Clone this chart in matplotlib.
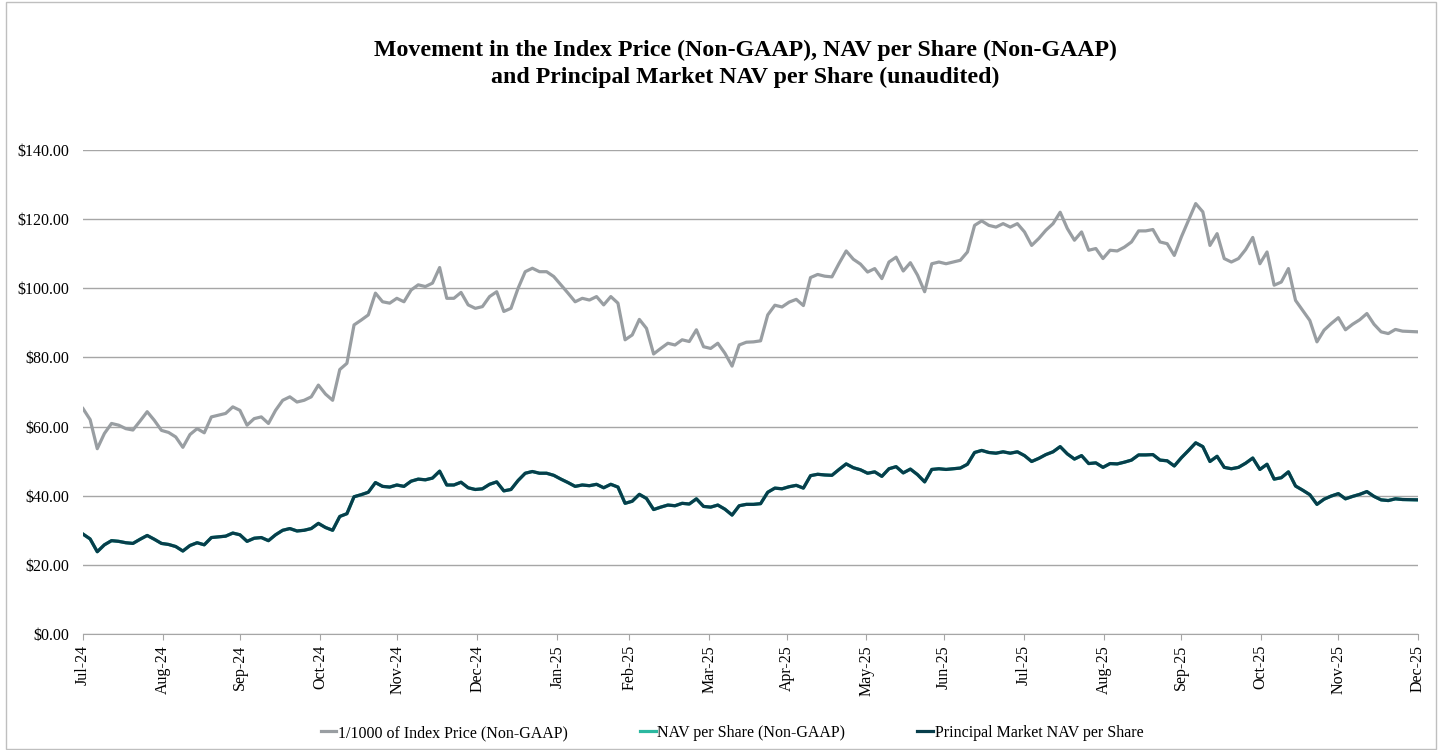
import numpy as np
import pandas as pd
import matplotlib
matplotlib.use("Agg")
import matplotlib.pyplot as plt
import matplotlib.dates as mdates
from matplotlib.patches import Rectangle

plt.rcParams['font.family'] = ['Liberation Serif', 'DejaVu Serif']

# readings taken at evenly spaced dates through 2025-12-25, plus the last day
first_day = "2024-07-31"
last_read = "2025-12-25"
last_day = "2025-12-31"

# 1/1000 of index price (Non-GAAP)
index_price = [
    65.2, 62.0, 53.6, 58.0, 60.9, 60.4, 59.4, 59.0, 61.6, 64.3,
    61.8, 58.9, 58.3, 57.0, 54.0, 57.7, 59.4, 58.2, 62.8, 63.3,
    63.8, 65.7, 64.7, 60.4, 62.3, 62.8, 60.9, 64.7, 67.6, 68.6,
    67.1, 67.6, 68.6, 72.0, 69.4, 67.6, 76.5, 78.3, 89.4, 90.8,
    92.3, 98.6, 96.1, 95.7, 97.1, 96.1, 99.5, 101.0, 100.5, 101.5,
    106.0, 97.1, 97.1, 98.8, 95.2, 94.2, 94.7, 97.6, 99.0, 93.3,
    94.2, 100.0, 104.8, 105.8, 104.8, 104.8, 103.4, 101.0, 98.6, 96.1,
    97.1, 96.6, 97.6, 95.2, 97.6, 95.7, 85.1, 86.5, 91.0, 88.4,
    81.0, 82.6, 84.1, 83.6, 85.1, 84.6, 88.0, 83.1, 82.6, 84.1,
    81.2, 77.5, 83.6, 84.4, 84.5, 84.8, 92.3, 95.1, 94.6, 96.0,
    96.8, 95.0, 103.1, 104.0, 103.5, 103.3, 107.2, 110.8, 108.4, 107.0,
    104.7, 105.7, 102.8, 107.6, 109.0, 105.0, 107.4, 103.8, 99.0, 107.1,
    107.6, 107.1, 107.6, 108.1, 110.5, 118.2, 119.5, 118.2, 117.7, 118.7,
    117.7, 118.7, 116.3, 112.4, 114.4, 116.8, 118.7, 122.0, 117.3, 113.9,
    116.3, 111.0, 111.5, 108.6, 111.0, 110.8, 111.9, 113.4, 116.6, 116.6,
    117.0, 113.4, 112.9, 109.5, 114.9, 119.7, 124.5, 122.1, 112.4, 115.8,
    108.6, 107.6, 108.6, 111.2, 114.7, 107.1, 110.5, 100.9, 101.8, 105.7,
    96.5, 93.6, 90.7, 84.5, 87.9, 89.8, 91.5, 88.0, 89.6, 90.9,
    92.7, 89.6, 87.4, 86.9, 88.1, 87.6, 87.4,
]

# NAV per share (Non-GAAP)
nav_per_share = [
    28.9, 27.5, 23.8, 25.8, 27.0, 26.8, 26.4, 26.2, 27.4, 28.5,
    27.4, 26.2, 25.9, 25.3, 24.0, 25.6, 26.4, 25.8, 27.9, 28.1,
    28.3, 29.2, 28.7, 26.8, 27.7, 27.9, 27.0, 28.7, 30.0, 30.5,
    29.8, 30.0, 30.5, 32.0, 30.8, 30.0, 34.0, 34.8, 39.7, 40.3,
    41.0, 43.8, 42.7, 42.5, 43.1, 42.7, 44.2, 44.8, 44.6, 45.1,
    47.1, 43.1, 43.1, 43.9, 42.3, 41.8, 42.0, 43.3, 44.0, 41.4,
    41.8, 44.4, 46.5, 47.0, 46.5, 46.5, 45.9, 44.8, 43.8, 42.7,
    43.1, 42.9, 43.3, 42.3, 43.3, 42.5, 37.8, 38.4, 40.4, 39.2,
    36.0, 36.7, 37.3, 37.1, 37.8, 37.6, 39.1, 36.9, 36.7, 37.3,
    36.1, 34.4, 37.1, 37.5, 37.5, 37.7, 41.0, 42.2, 42.0, 42.6,
    43.0, 42.2, 45.8, 46.2, 46.0, 45.9, 47.6, 49.2, 48.1, 47.5,
    46.5, 46.9, 45.6, 47.8, 48.4, 46.6, 47.7, 46.1, 44.0, 47.6,
    47.8, 47.6, 47.8, 48.0, 49.1, 52.5, 53.1, 52.5, 52.3, 52.7,
    52.3, 52.7, 51.6, 49.9, 50.8, 51.9, 52.7, 54.2, 52.1, 50.6,
    51.6, 49.3, 49.5, 48.2, 49.3, 49.2, 49.7, 50.3, 51.8, 51.8,
    51.9, 50.3, 50.1, 48.6, 51.0, 53.1, 55.3, 54.2, 49.9, 51.4,
    48.2, 47.8, 48.2, 49.4, 50.9, 47.6, 49.1, 44.8, 45.2, 46.9,
    42.8, 41.6, 40.3, 37.5, 39.0, 39.9, 40.6, 39.1, 39.8, 40.4,
    41.2, 39.8, 38.8, 38.6, 39.1, 38.9, 38.8,
]

# Principal Market NAV per share - lies on top of the NAV line in the chart
principal_nav = list(nav_per_share)

labels = ["1/1000 of Index Price (Non-GAAP)", "NAV per Share (Non-GAAP)",
          "Principal Market NAV per Share"]
colors = ["#999ea2", "#2bb8a0", "#073e4b"]

title = ("Movement in the Index Price (Non-GAAP), NAV per Share (Non-GAAP)\n"
         "and Principal Market NAV per Share (unaudited)")

dates = pd.date_range(first_day, last_read, periods=len(index_price) - 1)
dates = dates.append(pd.DatetimeIndex([last_day]))
month_ticks = pd.date_range(first_day, last_day, freq="ME")

fig = plt.figure(figsize=(14.4, 7.5), dpi=100)
ax = fig.add_axes([83 / 1440, 116 / 750, 1335 / 1440, 484 / 750])

grid_c = "#a6a6a6"
ax.plot(dates, index_price, color=colors[0], lw=2.3, label=labels[0], zorder=3)
ax.plot(dates, nav_per_share, color=colors[1], lw=2.3, label=labels[1], zorder=3)
ax.plot(dates, principal_nav, color=colors[2], lw=2.3, label=labels[2], zorder=4)

ax.set_ylim(0, 140)
ax.set_xlim(pd.Timestamp(first_day), pd.Timestamp(last_day))
ax.set_yticks(np.arange(0, 141, 20))
ax.set_yticklabels(["${:.2f}".format(v) for v in np.arange(0, 141, 20)])
ax.set_xticks(month_ticks)
ax.xaxis.set_major_formatter(mdates.DateFormatter("%b-%y"))
plt.setp(ax.get_xticklabels(), rotation=90)
ax.grid(axis="y", color=grid_c, lw=1)
ax.set_axisbelow(True)
for s in ["left", "right", "top"]:
    ax.spines[s].set_visible(False)
ax.spines["bottom"].set_color(grid_c)
ax.tick_params(axis="y", length=0, pad=10, labelsize=11.5)
ax.tick_params(axis="x", length=4, color=grid_c, pad=4, labelsize=11.5)

fig.text(745 / 1440, 1 - 64 / 750, title, ha="center", va="center",
         fontsize=17.2, fontweight="bold", linespacing=1.4)

fig.legend(loc="center", bbox_to_anchor=(732 / 1440, 1 - 733 / 750), ncol=3,
           frameon=False, fontsize=11.5, handlelength=1.0, handletextpad=0.1,
           columnspacing=4.5)

fig.patches.append(Rectangle((6 / 1440, 1 / 750), 1430 / 1440, 747 / 750,
                             transform=fig.transFigure, fill=False,
                             edgecolor="#bfbfbf", lw=1))

fig.savefig("out.png", dpi=100)
